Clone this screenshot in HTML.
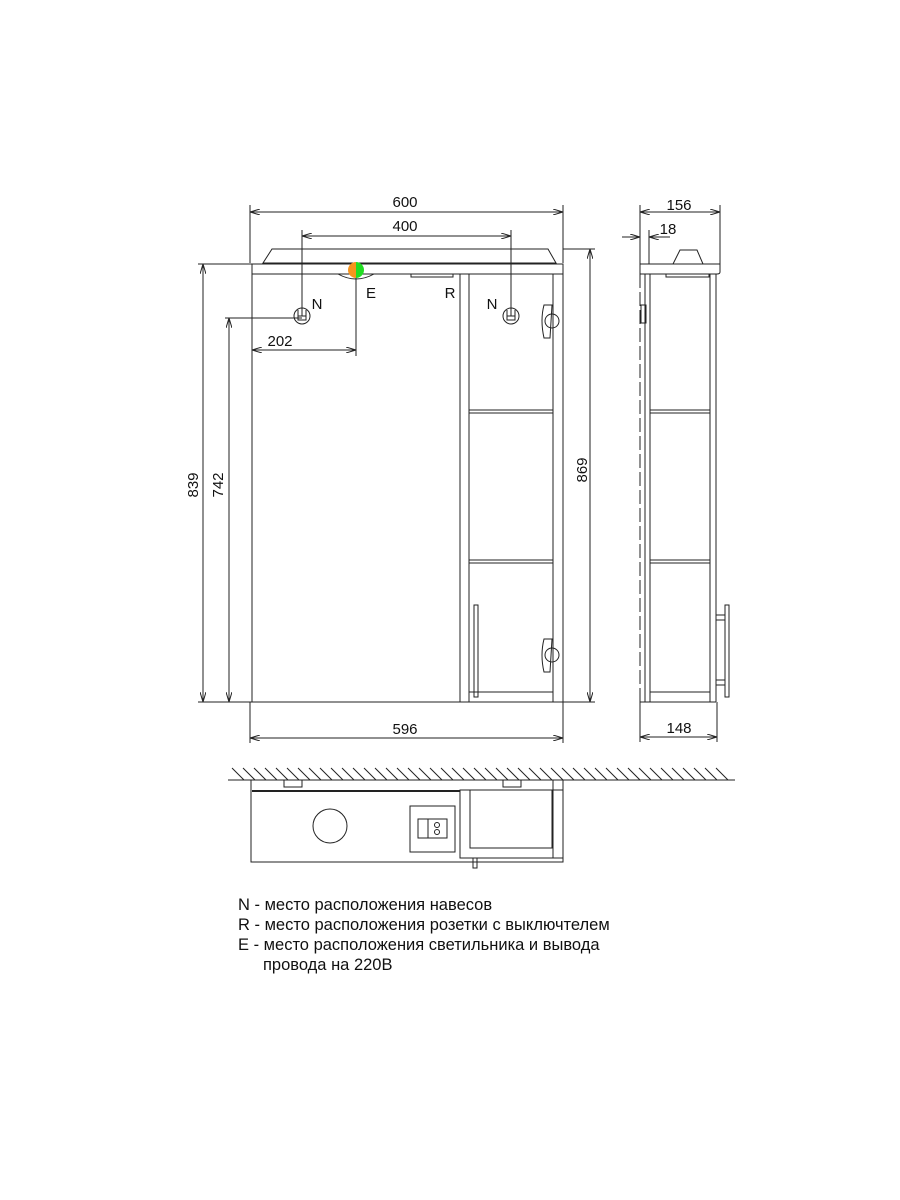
<!DOCTYPE html>
<html><head><meta charset="utf-8"><style>html,body{margin:0;padding:0;background:#fff}svg{display:block}</style></head><body>
<svg width="900" height="1200" viewBox="0 0 900 1200" xmlns="http://www.w3.org/2000/svg" font-family="Liberation Sans, sans-serif">
<defs>
<marker id="a" viewBox="0 0 10 6" refX="10" refY="3" markerWidth="10" markerHeight="6" orient="auto-start-reverse" markerUnits="userSpaceOnUse"><path d="M0,0 L10,3 L0,6" fill="none" stroke="#222" stroke-width="1"/></marker>
</defs>
<g stroke="#222" stroke-width="1" fill="none">
<path d="M272,249 L548,249 L556,263 L263,263 Z"/>
<rect x="252" y="264" width="311" height="10"/>
<line x1="252" y1="274" x2="252" y2="702"/>
<rect x="460" y="274" width="103" height="428"/>
<line x1="469" y1="274" x2="469" y2="702"/>
<line x1="553" y1="274" x2="553" y2="702"/>
<line x1="469" y1="692" x2="553" y2="692"/>
<line x1="469" y1="410" x2="553" y2="410"/><line x1="469" y1="413" x2="553" y2="413"/>
<line x1="469" y1="560" x2="553" y2="560"/><line x1="469" y1="563" x2="553" y2="563"/>
<rect x="474" y="605" width="4" height="92"/>
<path d="M338,274 Q356,284 374,274"/>
<path d="M411,274 L411,277 L453,277 L453,274"/>
<circle cx="302" cy="316" r="8"/><path d="M298,310 V320 H306 V310 M298,316 H306"/>
<circle cx="511" cy="316" r="8"/><path d="M507,310 V320 H515 V310 M507,316 H515"/>
<path d="M544,305 Q540,320 544,338 L550,338 L552,305 Z"/><circle cx="552" cy="321" r="7"/>
<path d="M544,639 Q540,655 544,672 L550,672 L552,639 Z"/><circle cx="552" cy="655" r="7"/>
<line x1="250" y1="205" x2="250" y2="263"/><line x1="563" y1="205" x2="563" y2="263"/>
<line x1="250" y1="212" x2="563" y2="212" marker-start="url(#a)" marker-end="url(#a)"/>
<line x1="302" y1="236" x2="511" y2="236" marker-start="url(#a)" marker-end="url(#a)"/>
<line x1="302" y1="230" x2="302" y2="316"/><line x1="511" y1="230" x2="511" y2="316"/>
<line x1="356" y1="270" x2="356" y2="356"/>
<line x1="252" y1="350" x2="356" y2="350" marker-start="url(#a)" marker-end="url(#a)"/>
<line x1="198" y1="264" x2="252" y2="264"/>
<line x1="563" y1="249" x2="595" y2="249"/>
<line x1="203" y1="264" x2="203" y2="702" marker-start="url(#a)" marker-end="url(#a)"/>
<line x1="225" y1="318" x2="302" y2="318"/>
<line x1="229" y1="318" x2="229" y2="702" marker-start="url(#a)" marker-end="url(#a)"/>
<line x1="590" y1="249" x2="590" y2="702" marker-start="url(#a)" marker-end="url(#a)"/>
<line x1="198" y1="702" x2="595" y2="702"/>
<line x1="250" y1="702" x2="250" y2="743"/><line x1="563" y1="702" x2="563" y2="743"/>
<line x1="250" y1="738" x2="563" y2="738" marker-start="url(#a)" marker-end="url(#a)"/>
<line x1="640" y1="205" x2="640" y2="264"/><line x1="720" y1="205" x2="720" y2="264"/>
<line x1="640" y1="212" x2="720" y2="212" marker-start="url(#a)" marker-end="url(#a)"/>
<line x1="622" y1="237" x2="640" y2="237" marker-end="url(#a)"/>
<line x1="670" y1="237" x2="649" y2="237" marker-end="url(#a)"/>
<line x1="649" y1="230" x2="649" y2="264"/>
<path d="M640,264 H720 V272 Q720,274 717,274 H640 Z"/>
<path d="M673,264 L680,250 L697,250 L703,264"/>
<path d="M666,274 V277 H709 V274"/>
<line x1="640" y1="274" x2="640" y2="702" stroke-dasharray="14,4"/>
<line x1="645" y1="274" x2="645" y2="702"/><line x1="650" y1="274" x2="650" y2="702"/>
<line x1="710" y1="274" x2="710" y2="702"/><line x1="716" y1="274" x2="716" y2="702"/>
<line x1="650" y1="410" x2="710" y2="410"/><line x1="650" y1="413" x2="710" y2="413"/>
<line x1="650" y1="560" x2="710" y2="560"/><line x1="650" y1="563" x2="710" y2="563"/>
<line x1="650" y1="692" x2="710" y2="692"/>
<line x1="640" y1="702" x2="716" y2="702"/>
<rect x="641" y="305" width="5" height="18"/>
<rect x="725" y="605" width="4" height="92"/>
<path d="M716,615 H725 M716,620 H725 M716,680 H725 M716,685 H725"/>
<line x1="640" y1="702" x2="640" y2="742"/><line x1="717" y1="702" x2="717" y2="742"/>
<line x1="640" y1="737" x2="717" y2="737" marker-start="url(#a)" marker-end="url(#a)"/>
<line x1="228" y1="780" x2="735" y2="780"/>
<path d="M232,768 l12,12 M243,768 l12,12 M254,768 l12,12 M265,768 l12,12 M276,768 l12,12 M287,768 l12,12 M298,768 l12,12 M309,768 l12,12 M320,768 l12,12 M331,768 l12,12 M342,768 l12,12 M353,768 l12,12 M364,768 l12,12 M375,768 l12,12 M386,768 l12,12 M397,768 l12,12 M408,768 l12,12 M419,768 l12,12 M430,768 l12,12 M441,768 l12,12 M452,768 l12,12 M463,768 l12,12 M474,768 l12,12 M485,768 l12,12 M496,768 l12,12 M507,768 l12,12 M518,768 l12,12 M529,768 l12,12 M540,768 l12,12 M551,768 l12,12 M562,768 l12,12 M573,768 l12,12 M584,768 l12,12 M595,768 l12,12 M606,768 l12,12 M617,768 l12,12 M628,768 l12,12 M639,768 l12,12 M650,768 l12,12 M661,768 l12,12 M672,768 l12,12 M683,768 l12,12 M694,768 l12,12 M705,768 l12,12 M716,768 l12,12"/>
<rect x="251" y="780" width="312" height="82"/>
<line x1="252" y1="791" x2="460" y2="791" stroke-width="2"/>
<rect x="284" y="780" width="18" height="7"/><rect x="503" y="780" width="18" height="7"/>
<rect x="460" y="790" width="103" height="68"/>
<rect x="470" y="790" width="82" height="58"/>
<line x1="553" y1="780" x2="553" y2="858"/>
<circle cx="330" cy="826" r="17"/>
<rect x="410" y="806" width="45" height="46"/>
<rect x="418" y="819" width="29" height="19"/><line x1="428" y1="819" x2="428" y2="838"/>
<circle cx="437" cy="825" r="2.5"/><circle cx="437" cy="832" r="2.5"/>
<rect x="473" y="858" width="4" height="10"/>
</g>
<path d="M356,262 A8,8 0 0 0 356,278 Z" fill="#f7941d"/>
<path d="M356,262 A8,8 0 0 1 356,278 Z" fill="#22dd22"/>
<g fill="#111" font-size="15" text-anchor="middle">
<text x="405" y="207">600</text>
<text x="405" y="231">400</text>
<text x="280" y="346">202</text>
<text x="405" y="734">596</text>
<text x="679" y="210">156</text>
<text x="668" y="234">18</text>
<text x="679" y="733">148</text>
<text x="317" y="309">N</text>
<text x="492" y="309">N</text>
<text x="371" y="298">E</text>
<text x="450" y="298">R</text>
<text transform="translate(198,485) rotate(-90)">839</text>
<text transform="translate(223,485) rotate(-90)">742</text>
<text transform="translate(587,470) rotate(-90)">869</text>
</g>
<g fill="#111" font-size="16.5">
<text x="238" y="910">N - место расположения навесов</text>
<text x="238" y="930">R - место расположения розетки с выключтелем</text>
<text x="238" y="950">E - место расположения светильника и вывода</text>
<text x="263" y="970">провода на 220В</text>
</g>
</svg>
</body></html>
